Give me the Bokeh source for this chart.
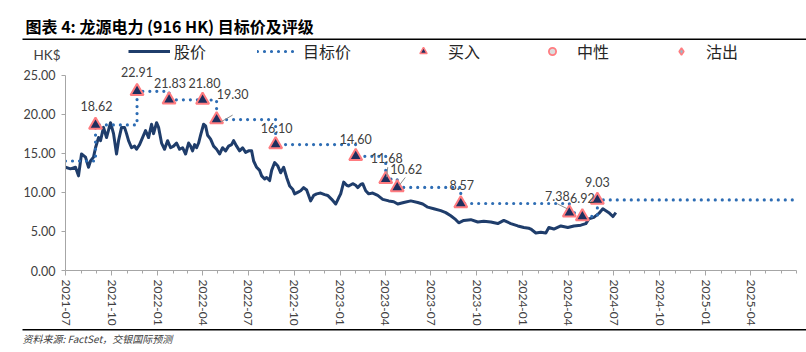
import pandas as pd
from bokeh.plotting import figure
from bokeh.layouts import column
from bokeh.models import (Range1d, FixedTicker, DatetimeTickFormatter, NumeralTickFormatter,
                          Label, Legend, LegendItem, ColumnDataSource)
from bokeh.core.properties import value
from bokeh.embed import file_html
from bokeh.resources import INLINE

# ---------------- data ----------------
price_dates = [
    "2021-07-01", "2021-07-11", "2021-07-21", "2021-07-27", "2021-08-02", "2021-08-10", "2021-08-16",
    "2021-08-20", "2021-08-26", "2021-08-30", "2021-09-05", "2021-09-09", "2021-09-15", "2021-09-21",
    "2021-09-29", "2021-10-05", "2021-10-11", "2021-10-15", "2021-10-21", "2021-10-27", "2021-10-31",
    "2021-11-04", "2021-11-10", "2021-11-16", "2021-11-20", "2021-11-26", "2021-12-02", "2021-12-08",
    "2021-12-14", "2021-12-20", "2021-12-24", "2021-12-30", "2022-01-03", "2022-01-09", "2022-01-15",
    "2022-01-21", "2022-01-27", "2022-02-02", "2022-02-08", "2022-02-14", "2022-02-20", "2022-02-26",
    "2022-03-04", "2022-03-08", "2022-03-12", "2022-03-16", "2022-03-20", "2022-03-24", "2022-03-28",
    "2022-04-03", "2022-04-07", "2022-04-11", "2022-04-17", "2022-04-23", "2022-04-29", "2022-05-05",
    "2022-05-11", "2022-05-17", "2022-05-23", "2022-05-29", "2022-06-02", "2022-06-08", "2022-06-14",
    "2022-06-20", "2022-06-26", "2022-07-02", "2022-07-08", "2022-07-12", "2022-07-18", "2022-07-24",
    "2022-07-28", "2022-08-03", "2022-08-07", "2022-08-13", "2022-08-17", "2022-08-23", "2022-08-29",
    "2022-09-04", "2022-09-10", "2022-09-16", "2022-09-22", "2022-09-28", "2022-10-02", "2022-10-08",
    "2022-10-14", "2022-10-20", "2022-10-26", "2022-11-03", "2022-11-09", "2022-11-15", "2022-11-23",
    "2022-12-01", "2022-12-07", "2022-12-15", "2022-12-23", "2022-12-29", "2023-01-02", "2023-01-08",
    "2023-01-14", "2023-01-18", "2023-01-26", "2023-02-01", "2023-02-05", "2023-02-11", "2023-02-15",
    "2023-02-21", "2023-02-27", "2023-03-07", "2023-03-17", "2023-03-27", "2023-04-08", "2023-04-18",
    "2023-04-26", "2023-05-08", "2023-05-22", "2023-06-05", "2023-06-15", "2023-06-25", "2023-07-07",
    "2023-07-21", "2023-07-31", "2023-08-10", "2023-08-20", "2023-08-26", "2023-09-05", "2023-09-19",
    "2023-10-03", "2023-10-15", "2023-10-29", "2023-11-12", "2023-11-24", "2023-12-08", "2023-12-22",
    "2024-01-03", "2024-01-13", "2024-01-17", "2024-01-27", "2024-02-06", "2024-02-16", "2024-02-22",
    "2024-03-03", "2024-03-17", "2024-03-31", "2024-04-12", "2024-04-26", "2024-05-06", "2024-05-12",
    "2024-05-22", "2024-06-01", "2024-06-09", "2024-06-15", "2024-06-21", "2024-06-29", "2024-07-05",
]
price_values = [
    13.2, 13.0, 13.2, 12.1, 14.9, 14.5, 13.2,
    14.0, 14.5, 15.7, 17.0, 16.6, 18.3, 17.0,
    18.9, 17.5, 14.9, 16.6, 18.3, 18.3, 17.5,
    16.6, 15.7, 15.9, 15.5, 16.1, 17.0, 17.9,
    17.0, 18.7, 17.5, 18.9, 18.3, 16.3, 15.5,
    16.6, 15.7, 15.9, 16.3, 15.5, 15.7, 14.9,
    16.3, 15.9, 15.3, 16.1, 15.7, 16.3, 17.3,
    18.7, 18.5, 17.3, 16.8, 15.9, 15.5, 14.9,
    15.7, 15.3, 15.9, 16.1, 16.6, 15.9, 15.3,
    15.7, 15.1, 15.3, 15.3, 14.0, 13.2, 12.8,
    12.1, 11.7, 11.9, 11.5, 12.8, 13.8, 13.4,
    12.5, 13.2, 11.9, 10.8, 10.4, 9.8, 10.0,
    10.2, 10.6, 10.3, 8.9, 9.6, 9.8, 9.9,
    9.7, 9.6, 9.1, 8.5, 9.3, 9.8, 11.3,
    10.9, 10.8, 11.1, 10.9, 10.6, 11.0, 11.1,
    10.2, 9.8, 9.9, 9.6, 9.1, 8.9, 8.8,
    8.5, 8.7, 8.9, 8.7, 8.5, 8.1, 7.9,
    7.65, 7.4, 7.0, 6.5, 6.1, 6.4, 6.5,
    6.2, 6.3, 6.2, 6.0, 6.4, 6.0, 5.7,
    5.5, 5.4, 5.3, 4.8, 4.9, 4.8, 5.5,
    5.3, 5.7, 5.5, 5.7, 5.8, 6.0, 6.6,
    6.8, 7.3, 7.9, 7.65, 7.4, 6.9, 7.4,
]

prior_target_date = "2021-07-01"
prior_target = 14.0
event_dates = ["2021-08-30", "2021-11-21", "2022-01-24", "2022-04-01", "2022-04-29", "2022-08-25",
               "2023-02-01", "2023-04-02", "2023-04-25", "2023-08-30", "2024-04-03", "2024-04-29",
               "2024-05-29"]
event_targets = [18.62, 22.91, 21.83, 21.80, 19.30, 16.10, 14.60, 11.68, 10.62, 8.57, 7.38, 6.92, 9.03]
event_ratings = ["买入"] * 13
target_end_date = "2025-07-01"

x_start, x_end = "2021-07-01", "2025-07-01"
x_tick_dates = pd.date_range("2021-07-01", "2025-04-01", freq="QS-JAN")
x_minor_dates = pd.date_range("2021-07-01", "2025-07-01", freq="MS")
y_ticks = [0, 5, 10, 15, 20, 25]
y_max = 25

title_text = "图表 4: 龙源电力 (916 HK) 目标价及评级"
source_text = "资料来源: FactSet，交银国际预测"
unit_text = "HK$"
legend_labels = ["股价", "目标价", "买入", "中性", "沽出"]

# ---------------- styles ----------------
W = 806
HEADER_H, MAIN_H, FOOTER_H = 66, 262, 24
PRICE_C = "#1F3D6B"
TARGET_C = "#2E6DB4"
TRI_FILL = "#1F2F5F"
TRI_LINE = "#FF7C80"
AX_C = "#A6A6A6"
TXT_C = "#404040"
NUM_FONT = "Lato"
CJK_FONT = "Noto Sans CJK SC"
PRICE_STYLE = dict(line_color=PRICE_C, line_width=3, line_join="round")
TARGET_STYLE = dict(line_color=TARGET_C, line_width=3.2, line_dash="0 7", line_cap="round")


def ms(d):
    return pd.Timestamp(d).value / 1e6


def blank_fig(h):
    f = figure(width=W, height=h, output_backend="svg", toolbar_location=None,
               x_range=Range1d(0, W), y_range=Range1d(h, 0), min_border=0, frame_align=False)
    f.axis.visible = False
    f.grid.visible = False
    f.outline_line_color = None
    return f


# ---------------- header: title, rule, unit, legend ----------------
hdr = blank_fig(HEADER_H)
hdr.text(x=[25], y=[25], text=[title_text], text_font=value(CJK_FONT), text_font_size="16px",
         text_font_style="bold", text_color="black", text_baseline="middle")
hdr.segment(x0=[22], y0=[38.75], x1=[W], y1=[38.75], line_color="black", line_width=1.5)
hdr.text(x=[33], y=[54], text=[unit_text], text_font=value(NUM_FONT), text_font_size="13.5px",
         text_color=TXT_C, text_baseline="middle")
# legend proxies (kept outside the visible range; only their legend glyphs show)
off_x, off_y = [-1000, -990], [-1000, -1000]
h_price = hdr.line(off_x, off_y, **PRICE_STYLE)
h_target = hdr.line(off_x, off_y, **TARGET_STYLE)
h_buy = hdr.scatter(off_x[:1], off_y[:1], marker="triangle", size=11, fill_color=TRI_FILL,
                    line_color=TRI_LINE, line_width=1.5)
h_neu = hdr.scatter(off_x[:1], off_y[:1], marker="circle", size=12, fill_color="#DCDCDC",
                    line_color=TRI_LINE, line_width=1.8)
h_sell = hdr.scatter(off_x[:1], off_y[:1], marker="diamond", size=14, fill_color="#9FB5C2",
                     line_color=TRI_LINE, line_width=1.5)
legend = Legend(items=[LegendItem(label=l, renderers=[r]) for l, r in
                       zip(legend_labels, [h_price, h_target, h_buy, h_neu, h_sell])],
                orientation="horizontal", location=(128, HEADER_H - 63), padding=0, margin=0,
                spacing=51, glyph_width=42, glyph_height=18, label_height=18, label_standoff=4,
                label_text_font=CJK_FONT, label_text_font_size="16px", label_text_color="#262626",
                label_text_baseline="middle",
                border_line_color=None, background_fill_alpha=0)
hdr.add_layout(legend, "center")

# ---------------- main chart ----------------
frame_top_gap = 8.5  # px between frame top and the 25.00 level
frame_h = MAIN_H - 58
p = figure(width=W, height=MAIN_H, output_backend="svg", toolbar_location=None,
           x_axis_type="datetime", frame_align=False,
           x_range=Range1d(ms(x_start), ms(x_end)),
           y_range=Range1d(0, y_max * frame_h / (frame_h - frame_top_gap)),
           min_border_left=65, min_border_right=10, min_border_top=0, min_border_bottom=58)
p.outline_line_color = None
p.grid.visible = False

pdx = [pd.Timestamp(d) for d in price_dates]
p.line(pdx, price_values, **PRICE_STYLE)

t_dates = [pd.Timestamp(prior_target_date)] + [pd.Timestamp(d) for d in event_dates] + [pd.Timestamp(target_end_date)]
t_vals = [prior_target] + event_targets + [event_targets[-1]]
p.step(t_dates, t_vals, mode="after", **TARGET_STYLE)

ev_src = ColumnDataSource(dict(x=[pd.Timestamp(d) for d in event_dates], y=event_targets))
p.scatter("x", "y", source=ev_src, marker="triangle", size=13, fill_color=TRI_FILL,
          line_color=TRI_LINE, line_width=2)

# value labels (pixel offsets relative to marker)
label_offsets = [(1, 19), (0, 19), (1, 17), (2, 17), (16, 26), (1, 17), (0, 17), (1, 21), (9, 18),
                 (1, 18), (-12, 17), (0, 18), (0, 18)]
for d, v, (dx, dy) in zip(event_dates, event_targets, label_offsets):
    p.add_layout(Label(x=ms(d), y=v, text="%.2f" % v, x_offset=dx, y_offset=dy,
                       text_align="center", text_baseline="middle", text_font=NUM_FONT,
                       text_font_size="12.5px", text_color=TXT_C))

# leader lines (pixel offsets converted to data units: 2 days/px, 7.84 px per HK$)
leaders = {4: ((4, -2.5), (16, 4.5)), 7: ((1, 2), (2, 12)), 8: ((2, 2), (8, 10)), 10: ((-2, 4), (-12, 9))}
for i, ((ax, ay), (bx, by)) in leaders.items():
    t0 = pd.Timestamp(event_dates[i])
    v0 = event_targets[i]
    p.segment(x0=[t0 + pd.Timedelta(days=2 * ax)], y0=[v0 + ay / 7.84],
              x1=[t0 + pd.Timedelta(days=2 * bx)], y1=[v0 + by / 7.84],
              line_color="#8C8C8C", line_width=1)

xa = p.xaxis[0]
xa.ticker = FixedTicker(ticks=[ms(d) for d in x_tick_dates], minor_ticks=[ms(d) for d in x_minor_dates])
xa.formatter = DatetimeTickFormatter(days="%Y-%m", months="%Y-%m", years="%Y-%m")
xa.major_label_orientation = "vertical"
xa.axis_line_color = AX_C
xa.major_tick_line_color = AX_C
xa.minor_tick_line_color = AX_C
xa.major_tick_in = 0
xa.major_tick_out = 5
xa.minor_tick_in = 0
xa.minor_tick_out = 3
xa.major_label_text_font = NUM_FONT
xa.major_label_text_font_size = "12px"
xa.major_label_text_color = TXT_C
xa.major_label_standoff = 4

ya = p.yaxis[0]
ya.ticker = FixedTicker(ticks=y_ticks)
ya.bounds = (0, y_max)
ya.formatter = NumeralTickFormatter(format="0.00")
ya.axis_line_color = AX_C
ya.major_tick_line_color = AX_C
ya.minor_tick_line_color = None
ya.major_tick_in = 0
ya.major_tick_out = 4
ya.major_label_text_font = NUM_FONT
ya.major_label_text_font_size = "12.5px"
ya.major_label_text_color = TXT_C
ya.major_label_standoff = 6

# ---------------- footer: rule and source ----------------
ftr = blank_fig(FOOTER_H)
ftr.segment(x0=[22], y0=[1.25], x1=[W], y1=[1.25], line_color="black", line_width=1.5)
ftr.text(x=[22], y=[10], text=[source_text], text_font=value(CJK_FONT), text_font_size="10px",
         text_font_style="italic", text_color=TXT_C, text_baseline="middle")

layout = column(hdr, p, ftr, spacing=0)
open("out.html", "w").write(file_html(layout, INLINE))
